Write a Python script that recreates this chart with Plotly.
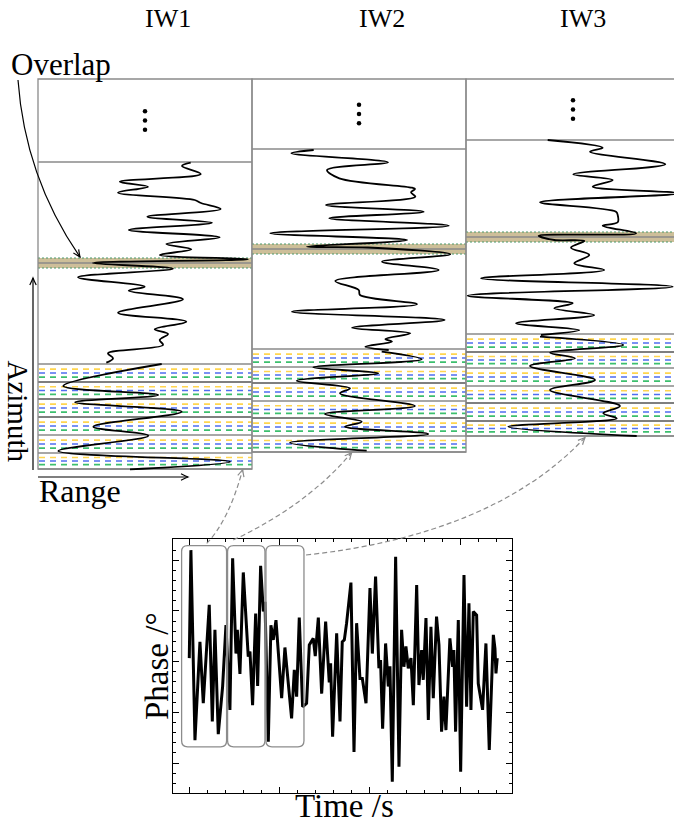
import numpy as np
import plotly.graph_objects as go

W, H = 674, 826
SERIF = "Liberation Serif"
FRAME = "#8a8a8a"
YEL, BLU, GRN = "#ffd54f", "#4f6ef0", "#3cbf6e"
TAN = "#cdbf99"
BAND_EDGE = "#4c9a6c"
LINK = "#8c8c8c"

# ---- phase history shown in the lower panel ----
time_s = [0.0, 0.018, 0.063, 0.118, 0.155, 0.221, 0.255, 0.284, 0.321, 0.369, 0.406, 0.450,
          0.480, 0.517, 0.532, 0.561, 0.598, 0.653, 0.672, 0.701, 0.735, 0.757, 0.790, 0.820,
          0.838, 0.875, 0.904, 0.930, 0.960, 1.023, 1.059, 1.133, 1.163, 1.189, 1.218, 1.255,
          1.299, 1.329, 1.373, 1.395, 1.429, 1.466, 1.510, 1.550, 1.565, 1.587, 1.632, 1.669,
          1.694, 1.717, 1.742, 1.790, 1.824, 1.853, 1.890, 1.916, 1.957, 2.001, 2.027, 2.063,
          2.100, 2.118, 2.141, 2.174, 2.204, 2.222, 2.248, 2.285, 2.322, 2.351, 2.377, 2.399,
          2.425, 2.455, 2.481, 2.518, 2.543, 2.573, 2.591, 2.621, 2.647, 2.676, 2.702, 2.738,
          2.765, 2.794, 2.820, 2.842, 2.886, 2.916, 2.930, 2.949, 2.979, 3.005, 3.042, 3.071,
          3.097, 3.119, 3.145, 3.182, 3.200, 3.248, 3.285, 3.322, 3.367, 3.385, 3.396, 3.410]
phase = [0.07, 2.20, -1.55, 0.39, -0.82, 1.12, -1.18, 0.63, -1.43, -0.49, 0.72, -0.95,
         2.04, 0.16, 0.63, -0.24, 1.76, 0.10, 0.20, -0.86, 0.95, -0.48, 1.89, 0.99,
         1.18, -1.58, 0.72, 0.43, 0.82, -0.72, 0.28, -1.12, -0.16, -0.69, 0.87, -0.89,
         -0.82, 0.33, 0.46, 0.11, 0.87, -0.63, 0.79, -0.41, -0.03, -1.48, 0.56, -1.18,
         0.39, 0.43, 0.76, 1.56, -1.78, 0.76, -0.33, -0.33, -0.82, 1.45, 0.16, 1.68,
         -0.13, 0.03, -1.32, 0.36, -0.49, -0.09, -2.37, 2.07, -2.07, 0.63, -0.10, 0.30,
         -0.13, 0.07, -0.86, 1.51, -0.46, 0.23, -0.36, 0.86, -1.15, 0.69, -0.72, 0.89,
         0.33, -1.38, -0.69, -1.35, 0.46, -0.10, 0.23, -1.38, 0.82, -2.17, 1.71, -0.89,
         1.15, -0.95, 0.99, 0.92, -0.43, -0.95, 0.36, -1.74, 0.53, 0.26, -0.23, 0.07]
windows_s = [(-0.085, 0.413), (0.424, 0.838), (0.849, 1.270)]
window_phase = (-1.68, 2.29)

# ---- sub-swath sketch (drawing units: range -> x, azimuth -> y) ----
swath_names = ["IW1", "IW2", "IW3"]
title_x = [168, 382, 583]
swath_x0 = [38, 252, 466]
swath_w = 214
swath_top = 79
head_end = [162, 149, 140]
overlap_mid = [263, 249, 237]
burst_edges = [[364, 382, 399, 417, 435, 453, 469],
               [349, 367, 383, 401, 418, 436, 452],
               [334, 352, 368, 386, 403, 421, 436]]
edge_dark = [[0, 1, 1, 1, 0, 0, 0],
             [0, 0, 1, 0, 1, 0, 0],
             [0, 1, 0, 0, 1, 1, 0]]

iw1_upper_az = [162.7, 166, 174, 181.7, 186.7, 192.7, 200, 203, 209, 216.7, 222.7, 230, 237.3,
                244, 249.3, 255, 259.3, 263, 268.7, 277.3, 286.7, 290.7, 299.3, 312.7, 321.7,
                329.3, 334, 340, 345, 353.3, 358.3, 362.7]
iw1_upper_rg = [152.7, 144, 162.7, 81.7, 110, 80, 156.7, 163, 182.7, 109.3, 174, 90.7, 181.7,
                128.3, 153.3, 121.7, 210, 55, 135, 40, 106.7, 90.7, 145, 80, 148.3,
                116.7, 130, 121.7, 125, 70, 75, 68.3]
iw1_burst_az = [364, 386, 395, 402.3, 411.7, 426.7, 435.7, 451, 461.7, 469.3]
iw1_burst_rg = [123.7, 25.3, 120.3, 37, 143.7, 55.3, 110.3, 20.3, 192, 92]

iw2_upper_az = [150, 153.3, 162.3, 170, 178.3, 187.7, 189, 192.3, 196.7, 205, 211.7, 218.3,
                225.7, 233.3, 240, 246.7, 247.5, 254.3, 261.7, 270, 281, 290, 295, 304.3,
                311.7, 320, 327.7, 333.3, 339, 341.7, 346.7, 350]
iw2_upper_rg = [61.7, 39.3, 136, 75, 87.3, 160, 163, 159, 163.3, 74, 171.7, 77.3,
                196.7, 18.3, 155, 55, 116, 198.3, 130, 186.7, 83.3, 106.7, 108, 165,
                40, 192.7, 100, 158.3, 133.3, 140, 113.3, 136.7]
iw2_burst_az = [351.7, 359.3, 367.3, 373.3, 380.7, 388.3, 393.3, 406, 414, 421.7, 426.7,
                434, 442.7, 450.7]
iw2_burst_rg = [129.7, 169.7, 61.3, 126.3, 44.7, 98, 88, 163, 73, 109.7, 93, 176.3, 38, 114.7]

iw3_upper_az = [140, 147.7, 151.7, 164.3, 174.3, 180, 186.7, 193.3, 202.3, 211.7, 215, 222.3,
                225.7, 233.3, 235.7, 240, 241, 247.7, 255, 263.3, 270, 278.3, 286.7, 295.7,
                303.3, 308.3, 315, 323.3, 330, 335]
iw3_upper_rg = [81.7, 136.7, 124, 199.3, 107.3, 146.7, 126.7, 212, 74, 150, 151.7, 151.7,
                136.7, 170, 72.7, 88.3, 118.3, 105, 123.3, 108.3, 138.3, 15, 206.7, 1.7,
                106.7, 88.3, 128.3, 50, 113.3, 75]
iw3_burst_az = [336.7, 345, 352.7, 358.3, 366, 380, 390, 406, 413.3, 418.3, 426.7, 436]
iw3_burst_rg = [74, 157.3, 84, 109, 64, 129, 84, 154, 137.3, 150.7, 42.3, 170.7]

wiggles = [(0, iw1_upper_rg, iw1_upper_az), (0, iw1_burst_rg, iw1_burst_az),
           (1, iw2_upper_rg, iw2_upper_az), (1, iw2_burst_rg, iw2_burst_az),
           (2, iw3_upper_rg, iw3_upper_az), (2, iw3_burst_rg, iw3_burst_az)]

fig = go.Figure()
shapes = []


def hline(x0, x1, y, color, width, dash="solid", layer="below"):
    shapes.append(dict(type="line", xref="x", yref="y", x0=x0, x1=x1, y0=y, y1=y,
                       line=dict(color=color, width=width, dash=dash), layer=layer))


for i in range(3):
    x0 = swath_x0[i]
    x1 = x0 + swath_w
    edges = burst_edges[i]
    # overlap band between consecutive bursts
    m = overlap_mid[i]
    shapes.append(dict(type="rect", xref="x", yref="y", x0=x0, x1=x1, y0=m - 5, y1=m + 5,
                       fillcolor=TAN, line=dict(width=0), layer="below"))
    hline(x0, x1, m, FRAME, 1.3)
    hline(x0, x1, m - 5, BAND_EDGE, 1.2, "2px,2px")
    hline(x0, x1, m + 5, BAND_EDGE, 1.2, "2px,2px")
    # dashed sub-burst lines
    for a, b in zip(edges[:-1], edges[1:]):
        h = b - a
        for frac, col in zip((0.28, 0.5, 0.73), (YEL, BLU, GRN)):
            hline(x0 + 1, x1, a + frac * h, col, 1.7, "6px,5px")
    for y, dark in zip(edges, edge_dark[i]):
        hline(x0, x1, y, "black" if dark else FRAME, 1.2 if dark else 1.5)
    hline(x0, x1, head_end[i], FRAME, 1.3)
    shapes.append(dict(type="rect", xref="x", yref="y", x0=x0, x1=x1, y0=swath_top,
                       y1=edges[-1], line=dict(color=FRAME, width=1.3), layer="below"))

for i, rg, az in wiggles:
    fig.add_trace(go.Scatter(x=[swath_x0[i] + r for r in rg], y=az, mode="lines",
                             line=dict(color="black", width=1.8, shape="spline", smoothing=1.0),
                             hoverinfo="skip", showlegend=False))

# vertical ellipsis in the head block of every swath
dx, dy = [], []
for i in range(3):
    cy = (swath_top + head_end[i]) / 2
    for k in (-9.3, 0, 9.3):
        dx.append(swath_x0[i] + swath_w / 2)
        dy.append(cy + k)
fig.add_trace(go.Scatter(x=dx, y=dy, mode="markers", marker=dict(color="black", size=4.5),
                         hoverinfo="skip", showlegend=False))

# phase time series
fig.add_trace(go.Scatter(x=time_s, y=phase, xaxis="x2", yaxis="y2", mode="lines",
                         line=dict(color="black", width=3), hoverinfo="skip", showlegend=False))

# rounded windows over the series
x_px = 339.0 / (3.577 + 0.177)
y_px = 254.0 / (2.414 + 2.596)
rx, ry = 6 / x_px, 6 / y_px
lo, hi = window_phase
for a, b in windows_s:
    p = (f"M {a + rx},{hi} L {b - rx},{hi} Q {b},{hi} {b},{hi - ry} "
         f"L {b},{lo + ry} Q {b},{lo} {b - rx},{lo} L {a + rx},{lo} Q {a},{lo} {a},{lo + ry} "
         f"L {a},{hi - ry} Q {a},{hi} {a + rx},{hi} Z")
    shapes.append(dict(type="path", xref="x2", yref="y2", path=p,
                       line=dict(color=LINK, width=1.3), layer="above"))


def head(tip, d, color, L=7.0, w=3.2):
    d = np.asarray(d, float)
    d = d / np.hypot(*d)
    n = np.array([-d[1], d[0]])
    t = np.asarray(tip, float)
    b = t - L * d
    p1, p2 = b + w * n, b - w * n
    c1, c2 = t - 0.35 * L * d + 0.3 * w * n, t - 0.35 * L * d - 0.3 * w * n
    shapes.append(dict(type="path", xref="x", yref="y", layer="above",
                       path=f"M {p1[0]},{p1[1]} Q {c1[0]},{c1[1]} {t[0]},{t[1]} "
                            f"Q {c2[0]},{c2[1]} {p2[0]},{p2[1]}",
                       line=dict(color=color, width=1.2)))


def curve(p0, c, p2, color, width, dash="solid"):
    shapes.append(dict(type="path", xref="x", yref="y", layer="above",
                       path=f"M {p0[0]},{p0[1]} Q {c[0]},{c[1]} {p2[0]},{p2[1]}",
                       line=dict(color=color, width=width, dash=dash)))
    head(p2, (p2[0] - c[0], p2[1] - c[1]), color)


# axis arrows of the sketch
shapes.append(dict(type="line", xref="x", yref="y", x0=33, x1=33, y0=470, y1=278,
                   line=dict(color="black", width=1.2), layer="above"))
head((33, 278), (0, -1), "black")
shapes.append(dict(type="line", xref="x", yref="y", x0=38, x1=188, y0=477, y1=477,
                   line=dict(color="black", width=1.2), layer="above"))
head((188, 477), (1, 0), "black")

# "Overlap" pointer
curve((18, 80), (25, 177.5), (80, 257), "black", 1.2)

# links from the windows to the bursts
curve((206.7, 543.3), (228.7, 520.8), (242.7, 469.5), LINK, 1.2, "5px,3px")
curve((233.3, 540), (307.5, 505), (351.7, 452.5), LINK, 1.2, "5px,3px")
curve((306, 555), (494, 534.5), (585, 437.5), LINK, 1.2, "5px,3px")

ann = []


def text(x, y, s, size, angle=0, pad=1):
    ann.append(dict(x=x, y=y, xref="x", yref="y", text=s, showarrow=False, textangle=angle,
                    font=dict(family=SERIF, size=size, color="black"), borderpad=pad,
                    xanchor="center", yanchor="middle"))


for name, tx in zip(swath_names, title_x):
    text(tx, 18, name, 26)
text(61, 64, "Overlap", 31)
text(80, 491, "Range", 32)
text(17.5, 411, "Azimuth", 29, angle=90, pad=0)
text(344, 806, "Time /s", 33)
text(157, 666, "Phase /°", 33, angle=-90)

axis_common = dict(showline=True, mirror="ticks", linecolor="black", linewidth=1,
                   ticks="inside", ticklen=6, tickcolor="black", tickwidth=1,
                   showticklabels=False, showgrid=False, zeroline=False, fixedrange=True)

fig.update_layout(
    width=W, height=H, margin=dict(l=0, r=0, t=0, b=0),
    paper_bgcolor="white", plot_bgcolor="rgba(0,0,0,0)", showlegend=False,
    xaxis=dict(range=[0, W], domain=[0, 1], visible=False, fixedrange=True),
    yaxis=dict(range=[H, 0], domain=[0, 1], visible=False, fixedrange=True),
    xaxis2=dict(domain=[173.3 / W, 512.3 / W], range=[-0.177, 3.577], anchor="y2",
                tick0=0, dtick=1,
                minor=dict(ticks="inside", ticklen=3, tick0=0, dtick=0.2, tickcolor="black",
                           showgrid=False),
                **axis_common),
    yaxis2=dict(domain=[1 - 793.3 / H, 1 - 539.3 / H], range=[-2.596, 2.414], anchor="x2",
                tick0=0, dtick=1,
                minor=dict(ticks="inside", ticklen=3, tick0=0, dtick=0.2, tickcolor="black",
                           showgrid=False),
                **axis_common),
    shapes=shapes, annotations=ann,
)

fig.write_html("out.html")
